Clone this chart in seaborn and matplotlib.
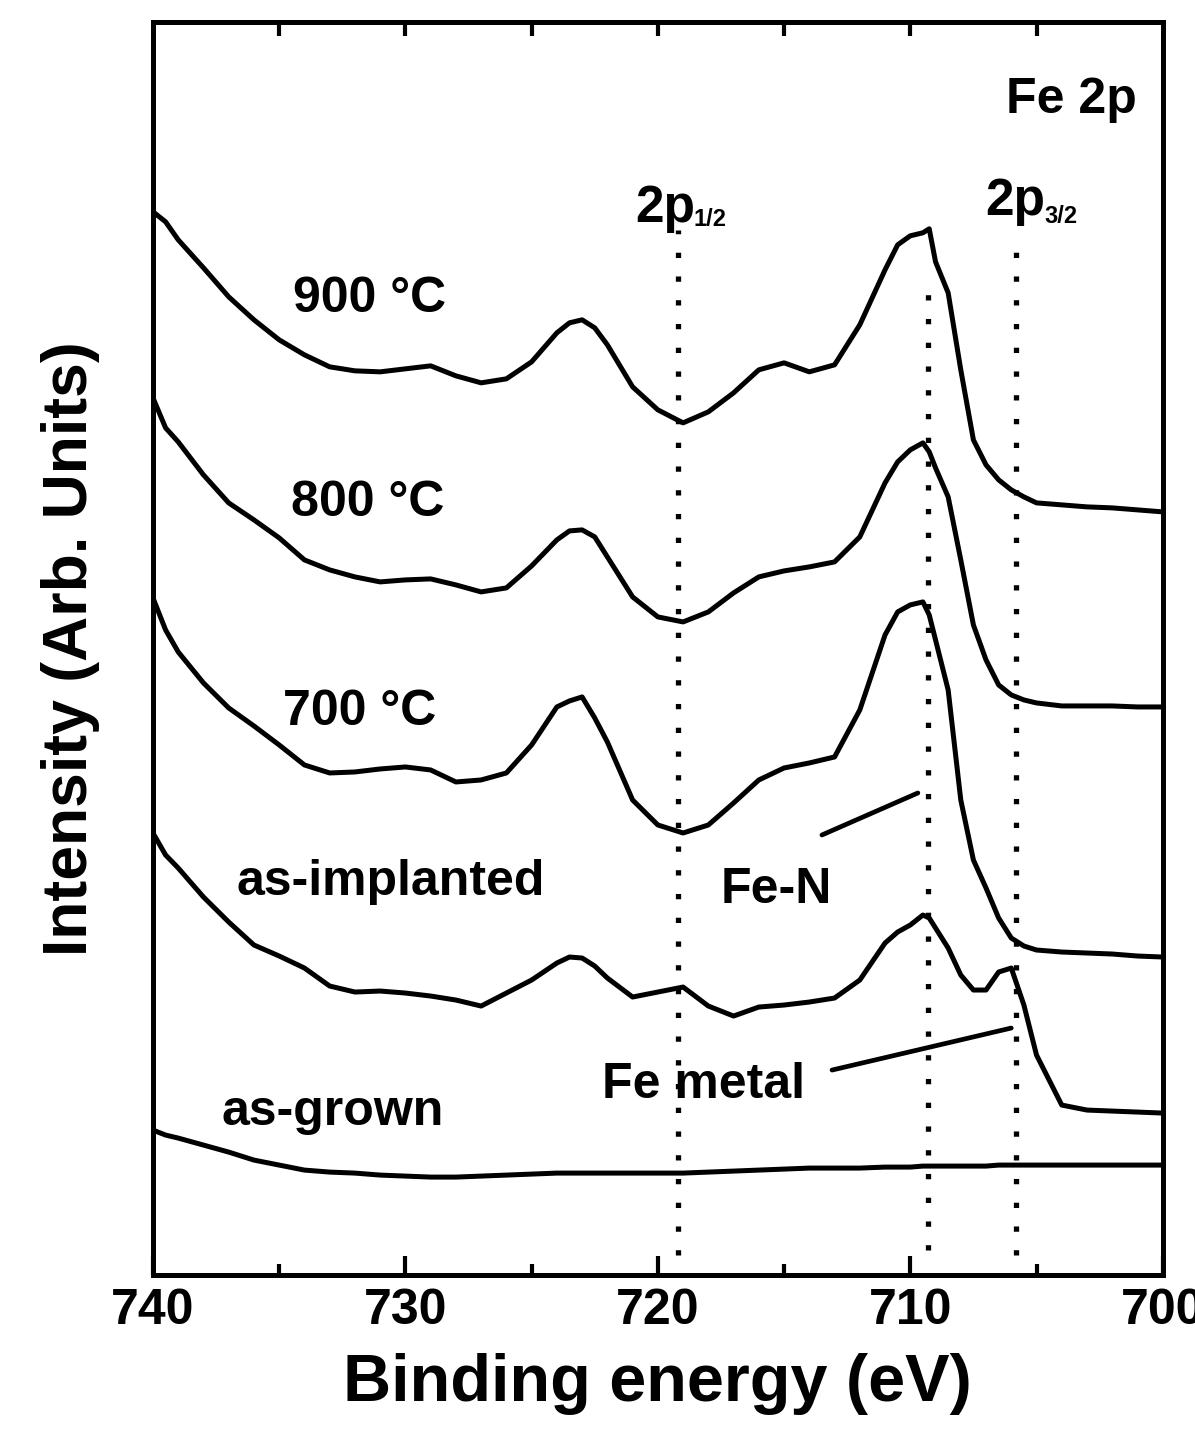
import matplotlib
matplotlib.use('Agg')
import matplotlib.pyplot as plt
import seaborn as sns

# binding energy grid (eV)
energy = [740, 739.5, 739, 738, 737, 736, 735, 734, 733, 732, 731, 730, 729, 728, 727, 726,
          725, 724, 723.5, 723, 722.5, 722, 721, 720, 719, 718, 717, 716, 715, 714, 713, 712,
          711, 710.5, 710, 709.5, 709.25, 709, 708.5, 708, 707.5, 707, 706.5, 706, 705.5, 705,
          704, 703, 702, 701, 700]

# intensities (arb. units, offset as in the figure)
t900 = [106.3, 105.3, 103.5, 100.7, 97.8, 95.5, 93.5, 92.0, 90.8, 90.4, 90.3, 90.6, 90.9, 89.9,
        89.2, 89.6, 91.3, 94.2, 95.2, 95.5, 94.7, 93.0, 88.8, 86.5, 85.2, 86.3, 88.2, 90.5, 91.2,
        90.3, 91.0, 95.0, 100.5, 103.0, 103.9, 104.2, 104.6, 101.3, 98.2, 90.5, 83.5, 81.0, 79.5,
        78.5, 77.8, 77.2, 77.0, 76.8, 76.7, 76.5, 76.3]
t800 = [87.7, 84.7, 83.3, 80.0, 77.2, 75.5, 73.7, 71.5, 70.5, 69.8, 69.3, 69.5, 69.6, 69.0, 68.3,
        68.7, 70.9, 73.5, 74.4, 74.5, 73.8, 71.8, 67.8, 65.8, 65.3, 66.3, 68.2, 69.8, 70.4, 70.8,
        71.3, 73.8, 79.2, 81.3, 82.5, 83.2, 82.3, 80.7, 77.8, 71.5, 65.0, 61.5, 59.0, 58.0, 57.5,
        57.2, 56.9, 56.9, 56.9, 56.8, 56.8]
t700 = [67.7, 64.5, 62.3, 59.2, 56.7, 54.9, 53.0, 51.0, 50.2, 50.3, 50.6, 50.8, 50.5, 49.3, 49.5,
        50.2, 53.0, 56.8, 57.4, 57.8, 55.7, 53.3, 47.5, 45.0, 44.2, 45.0, 47.2, 49.5, 50.7, 51.2,
        51.8, 56.5, 64.0, 66.3, 67.0, 67.3, 66.0, 63.5, 58.5, 47.5, 41.5, 38.7, 35.7, 33.7, 32.9,
        32.5, 32.3, 32.2, 32.1, 31.9, 31.8]
implanted = [44.2, 42.0, 40.7, 37.8, 35.3, 33.0, 31.9, 30.7, 28.9, 28.3, 28.4, 28.2, 27.9, 27.5,
             26.9, 28.2, 29.5, 31.2, 31.8, 31.7, 30.9, 29.7, 27.8, 28.3, 28.8, 26.9, 25.9, 26.8,
             27.0, 27.3, 27.7, 29.5, 33.2, 34.3, 35.0, 36.0, 35.7, 34.7, 32.7, 30.0, 28.5, 28.5,
             30.3, 30.7, 27.0, 22.0, 17.0, 16.5, 16.4, 16.3, 16.2]
grown = [14.5, 14.0, 13.7, 13.0, 12.3, 11.5, 11.0, 10.5, 10.3, 10.2, 10.0, 9.9, 9.8, 9.8, 9.9,
         10.0, 10.1, 10.2, 10.2, 10.2, 10.2, 10.2, 10.2, 10.2, 10.2, 10.3, 10.4, 10.5, 10.6, 10.7,
         10.7, 10.7, 10.8, 10.8, 10.8, 10.9, 10.9, 10.9, 10.9, 10.9, 10.9, 10.9, 11.0, 11.0, 11.0,
         11.0, 11.0, 11.0, 11.0, 11.0, 11.0]

# reference lines: 2p1/2, Fe-N, 2p3/2 (eV, top, bottom)
ref_lines = [(719.2, 104.5, 2.0), (709.3, 99.0, 2.5), (705.8, 103.5, 2.0)]

sns.set_style('ticks')
plt.rcParams['font.family'] = ['Liberation Sans', 'DejaVu Sans']
plt.rcParams['font.weight'] = 'bold'
plt.rcParams['text.color'] = 'black'
plt.rcParams['axes.labelcolor'] = 'black'
plt.rcParams['xtick.color'] = 'black'

fig = plt.figure(figsize=(11.95, 14.49), dpi=100)
ax = fig.add_axes([0.128, 0.120, 0.845, 0.865])

for series in [t900, t800, t700, implanted, grown]:
    sns.lineplot(x=energy, y=series, ax=ax, color='black', lw=3.6)

for e, top, bot in ref_lines:
    ax.vlines(e, bot, top, colors='black', linestyles=(0, (1, 3.5)), lw=3.8)

# pointer lines
ax.plot([713.5, 709.7], [44.0, 48.2], color='black', lw=3.4)
ax.plot([713.1, 706.0], [20.5, 24.7], color='black', lw=3.4)

lab = dict(fontsize=36, fontweight='bold', color='black', va='baseline', ha='center')
ax.text(731.4, 96.3, '900 °C', **lab)
ax.text(731.5, 75.9, '800 °C', **lab)
ax.text(731.8, 55.0, '700 °C', **lab)
ax.text(730.6, 38.0, 'as-implanted', **lab)
ax.text(732.9, 15.0, 'as-grown', **lab)
ax.text(715.3, 37.2, 'Fe-N', **lab)
ax.text(718.2, 17.7, 'Fe metal', **lab)
ax.text(703.6, 116.2, 'Fe 2p', **lab)
ax.text(720.9, 105.3, '2p', fontsize=37, fontweight='bold', va='baseline', ha='left')
ax.text(718.6, 104.9, '1/2', fontsize=17, fontweight='bold', va='baseline', ha='left')
ax.text(707.05, 106.0, '2p', fontsize=37, fontweight='bold', va='baseline', ha='left')
ax.text(704.7, 105.2, '3/2', fontsize=17, fontweight='bold', va='baseline', ha='left')

ax.set_xlim(740, 700)
ax.set_ylim(0, 125.3)
ax.set_xticks([740, 730, 720, 710, 700])
ax.set_xticks([735, 725, 715, 705], minor=True)
ax.set_yticks([])
ax.tick_params(axis='x', which='major', direction='in', length=14, width=3, labelsize=36, pad=9,
               colors='black')
ax.tick_params(axis='x', which='minor', direction='in', length=8, width=3, colors='black')
for lbl in ax.get_xticklabels():
    lbl.set_fontweight('bold')

top = ax.secondary_xaxis('top')
top.set_xticks([735, 730, 725, 720, 715, 710, 705])
top.tick_params(direction='in', length=10, width=3, labeltop=False, colors='black')
top.spines['top'].set_linewidth(3.6)

for sp in ax.spines.values():
    sp.set_linewidth(3.6)
    sp.set_color('black')

ax.set_xlabel('Binding energy (eV)', fontsize=48, fontweight='bold', labelpad=14, color='black')
ax.set_ylabel('Intensity (Arb. Units)', fontsize=45, fontweight='bold', labelpad=38, color='black')

fig.savefig('out.png', dpi=100)
